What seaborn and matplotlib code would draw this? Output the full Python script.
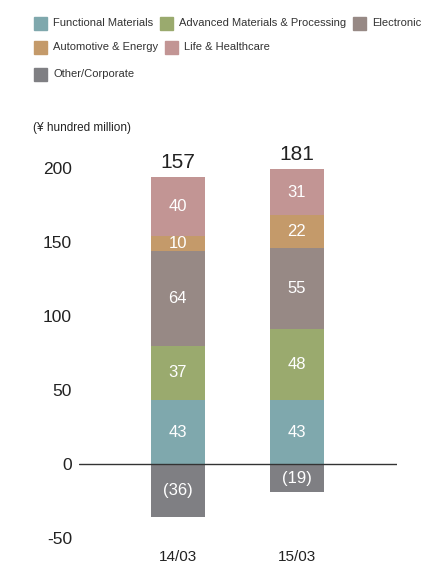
import matplotlib
matplotlib.use("Agg")
import matplotlib.pyplot as plt
from matplotlib.patches import Rectangle
import numpy as np
import pandas as pd
import seaborn as sns

periods = ["14/03", "15/03"]
segments = ["Functional Materials", "Advanced Materials & Processing", "Electronic",
            "Automotive & Energy", "Life & Healthcare"]
functional = [43, 43]
advanced = [37, 48]
electronic = [64, 55]
automotive = [10, 22]
life = [40, 31]
other = [-36, -19]
totals = [157, 181]
yticks = [-50, 0, 50, 100, 150, 200]

colors = {
    "Functional Materials": "#7fa8ad",
    "Advanced Materials & Processing": "#9aaa6e",
    "Electronic": "#978985",
    "Automotive & Energy": "#c49a6a",
    "Life & Healthcare": "#c29594",
    "Other/Corporate": "#7f7f83",
}

sns.set_theme(style="white")
plt.rcParams["font.family"] = ["Liberation Sans", "DejaVu Sans"]

fig = plt.figure(figsize=(4.21, 5.63), dpi=100)
ax = fig.add_axes([79/421, 1-545.4/563, 318/421, (545.4-153.2)/563])

values = [functional, advanced, electronic, automotive, life]
df = pd.DataFrame({s: v for s, v in zip(segments, values)}, index=periods)
cum = df.cumsum(axis=1)

for s in reversed(segments):
    d = pd.DataFrame({"period": periods, "value": cum[s].values})
    sns.barplot(data=d, x="period", y="value", color=colors[s], saturation=1,
                width=0.45, ax=ax, order=periods)
d = pd.DataFrame({"period": periods, "value": other})
sns.barplot(data=d, x="period", y="value", color=colors["Other/Corporate"], saturation=1,
            width=0.45, ax=ax, order=periods)

for p in ax.patches:
    p.set_edgecolor("none")

for i, per in enumerate(periods):
    prev = 0
    for s in segments:
        v = df.loc[per, s]
        ax.text(i, prev + v/2, f"{v}", ha="center", va="center", color="white", fontsize=12)
        prev += v
    ax.text(i, other[i]/2, f"({abs(other[i])})", ha="center", va="center", color="white", fontsize=12)
    ax.text(i, prev + 3.5, f"{totals[i]}", ha="center", va="bottom", color="#222222", fontsize=15)

ax.axhline(0, color="#333333", lw=1)
ax.set_xlim(-0.83, 1.84)
ax.set_ylim(-55, 210)
ax.set_yticks(yticks)
ax.set_yticklabels([str(t) for t in yticks], fontsize=12.5, color="#222222")
ax.tick_params(axis="y", length=0, pad=5)
ax.tick_params(axis="x", length=0, pad=3, labelsize=11, labelcolor="#222222")
ax.set_xlabel("")
ax.set_ylabel("")
for sp in ax.spines.values():
    sp.set_visible(False)

fig.text(33/421, 1-128/563, "(¥ hundred million)", fontsize=8.5, color="#222222", va="center")

rows = [
    (["Functional Materials", "Advanced Materials & Processing", "Electronic"], 23),
    (["Automotive & Energy", "Life & Healthcare"], 47),
    (["Other/Corporate"], 74),
]
renderer = fig.canvas.get_renderer()
for names_row, y in rows:
    x = 34
    for name in names_row:
        fig.patches.append(Rectangle((x/421, 1-(y+6.5)/563), 13/421, 13/563,
                                     transform=fig.transFigure, color=colors[name]))
        t = fig.text((x+19)/421, 1-y/563, name, fontsize=8, color="#333333", va="center")
        bb = t.get_window_extent(renderer=renderer)
        x = bb.x1 + 7

fig.savefig("out.png", dpi=100)
